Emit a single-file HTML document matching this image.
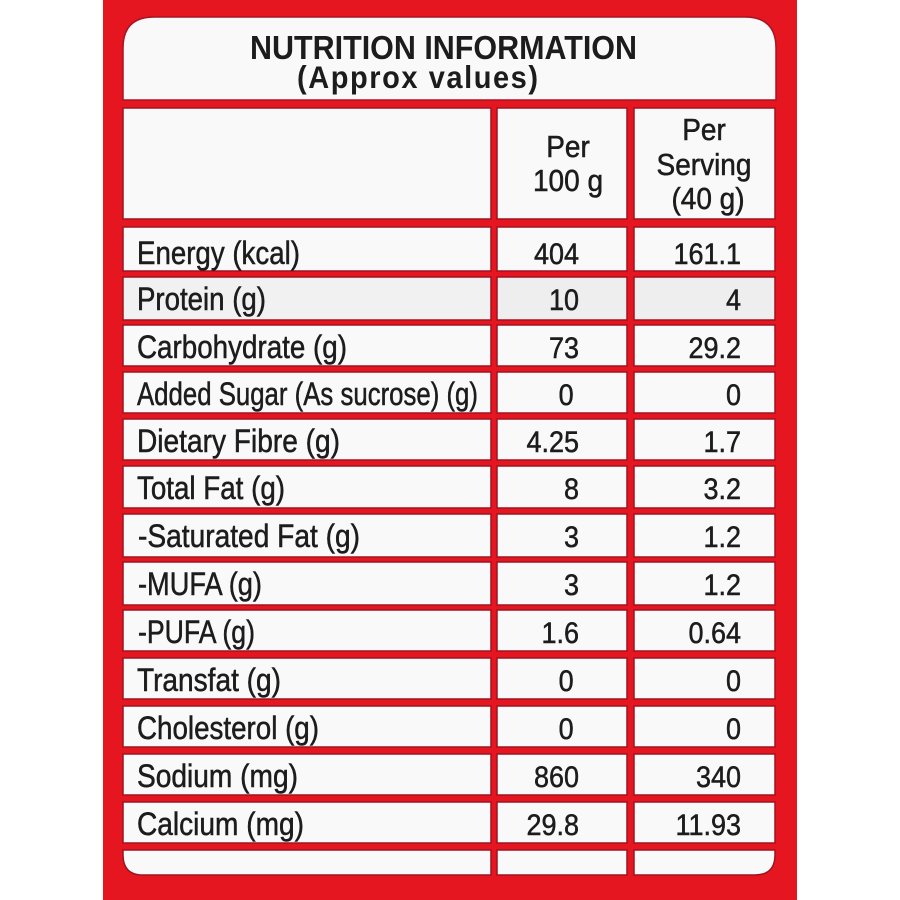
<!DOCTYPE html>
<html>
<head>
<meta charset="utf-8">
<style>
  html,body{margin:0;padding:0;background:#ffffff;}
  svg{display:block;}
  text{font-family:"Liberation Sans", Arial, sans-serif;fill:#1c1c1c;}
  .w text{stroke:#1c1c1c;stroke-width:0.5;}
</style>
</head>
<body>
<svg width="900" height="900" viewBox="0 0 900 900" xmlns="http://www.w3.org/2000/svg">
  <rect x="0" y="0" width="900" height="900" fill="#ffffff"/>
  <rect x="103" y="0" width="694" height="900" fill="#e5161f"/>

  <!-- header box -->
  <path d="M123,100 L123,48 Q123,17 154,17 L745,17 Q776,17 776,48 L776,100 Z" fill="#f9f9f9" stroke="#a81424" stroke-width="1.5"/>
  <text x="250" y="59" font-size="30" font-weight="bold" textLength="387" lengthAdjust="spacingAndGlyphs" transform="translate(0,59) scale(1,1.1) translate(0,-59)">NUTRITION INFORMATION</text>
  <text x="297" y="88" font-size="29" font-weight="bold" textLength="241" lengthAdjust="spacing" transform="translate(0,88) scale(1,1.08) translate(0,-88)">(Approx values)</text>

  <g fill="#f9f9f9" stroke="#a01222" stroke-width="1.5">
    <!-- header row -->
    <rect x="123" y="108" width="368" height="111"/>
    <rect x="497" y="108" width="130" height="111"/>
    <rect x="634" y="108" width="141" height="111"/>
    <!-- body rows -->
    <rect x="123" y="227" width="368" height="44"/><rect x="497" y="227" width="130" height="44"/><rect x="634" y="227" width="141" height="44"/>
    <rect x="123" y="277" width="368" height="43" fill="#f1f1f1"/><rect x="497" y="277" width="130" height="43" fill="#eeeeee"/><rect x="634" y="277" width="141" height="43" fill="#eeeeee"/>
    <rect x="123" y="325" width="368" height="41"/><rect x="497" y="325" width="130" height="41"/><rect x="634" y="325" width="141" height="41"/>
    <rect x="123" y="372" width="368" height="41"/><rect x="497" y="372" width="130" height="41"/><rect x="634" y="372" width="141" height="41"/>
    <rect x="123" y="419" width="368" height="41"/><rect x="497" y="419" width="130" height="41"/><rect x="634" y="419" width="141" height="41"/>
    <rect x="123" y="466" width="368" height="42"/><rect x="497" y="466" width="130" height="42"/><rect x="634" y="466" width="141" height="42"/>
    <rect x="123" y="514" width="368" height="43"/><rect x="497" y="514" width="130" height="43"/><rect x="634" y="514" width="141" height="43"/>
    <rect x="123" y="562" width="368" height="43"/><rect x="497" y="562" width="130" height="43"/><rect x="634" y="562" width="141" height="43"/>
    <rect x="123" y="610" width="368" height="41"/><rect x="497" y="610" width="130" height="41"/><rect x="634" y="610" width="141" height="41"/>
    <rect x="123" y="658" width="368" height="41"/><rect x="497" y="658" width="130" height="41"/><rect x="634" y="658" width="141" height="41"/>
    <rect x="123" y="706" width="368" height="41"/><rect x="497" y="706" width="130" height="41"/><rect x="634" y="706" width="141" height="41"/>
    <rect x="123" y="754" width="368" height="41"/><rect x="497" y="754" width="130" height="41"/><rect x="634" y="754" width="141" height="41"/>
    <rect x="123" y="802" width="368" height="41"/><rect x="497" y="802" width="130" height="41"/><rect x="634" y="802" width="141" height="41"/>
    <!-- last (empty) row -->
    <path d="M123,850 L491,850 L491,875 L143,875 Q123,875 123,855 Z"/>
    <rect x="497" y="850" width="130" height="25"/>
    <path d="M634,850 L775,850 L775,855 Q775,875 755,875 L634,875 Z"/>
  </g>

  <g class="w">
  <!-- header texts -->
  <g font-size="28" text-anchor="middle">
    <text x="568" y="157" transform="translate(0,157) scale(1,1.08) translate(0,-157)">Per</text>
    <text x="568" y="191" transform="translate(0,191) scale(1,1.08) translate(0,-191)">100 g</text>
    <text x="704" y="140" transform="translate(0,140) scale(1,1.08) translate(0,-140)">Per</text>
    <text x="704" y="175" transform="translate(0,175) scale(1,1.08) translate(0,-175)">Serving</text>
    <text x="708" y="209" transform="translate(0,209) scale(1,1.08) translate(0,-209)">(40 g)</text>
  </g>

  <!-- labels -->
  <g font-size="31">
    <text x="137" y="264" textLength="163" lengthAdjust="spacingAndGlyphs" transform="translate(0,264) scale(1,1.06) translate(0,-264)">Energy (kcal)</text>
    <text x="137" y="310" textLength="129" lengthAdjust="spacingAndGlyphs" transform="translate(0,310) scale(1,1.06) translate(0,-310)">Protein (g)</text>
    <text x="137" y="358" textLength="210" lengthAdjust="spacingAndGlyphs" transform="translate(0,358) scale(1,1.06) translate(0,-358)">Carbohydrate (g)</text>
    <text x="137" y="405" textLength="341" lengthAdjust="spacingAndGlyphs" transform="translate(0,405) scale(1,1.06) translate(0,-405)">Added Sugar (As sucrose) (g)</text>
    <text x="137" y="452" textLength="203" lengthAdjust="spacingAndGlyphs" transform="translate(0,452) scale(1,1.06) translate(0,-452)">Dietary Fibre (g)</text>
    <text x="137" y="499" textLength="148" lengthAdjust="spacingAndGlyphs" transform="translate(0,499) scale(1,1.06) translate(0,-499)">Total Fat (g)</text>
    <text x="138" y="547" textLength="222" lengthAdjust="spacingAndGlyphs" transform="translate(0,547) scale(1,1.06) translate(0,-547)">-Saturated Fat (g)</text>
    <text x="138" y="595" textLength="124" lengthAdjust="spacingAndGlyphs" transform="translate(0,595) scale(1,1.06) translate(0,-595)">-MUFA (g)</text>
    <text x="138" y="643" textLength="117" lengthAdjust="spacingAndGlyphs" transform="translate(0,643) scale(1,1.06) translate(0,-643)">-PUFA (g)</text>
    <text x="137" y="691" textLength="144" lengthAdjust="spacingAndGlyphs" transform="translate(0,691) scale(1,1.06) translate(0,-691)">Transfat (g)</text>
    <text x="137" y="739" textLength="182" lengthAdjust="spacingAndGlyphs" transform="translate(0,739) scale(1,1.06) translate(0,-739)">Cholesterol (g)</text>
    <text x="137" y="787" textLength="161" lengthAdjust="spacingAndGlyphs" transform="translate(0,787) scale(1,1.06) translate(0,-787)">Sodium (mg)</text>
    <text x="137" y="835" textLength="167" lengthAdjust="spacingAndGlyphs" transform="translate(0,835) scale(1,1.06) translate(0,-835)">Calcium (mg)</text>
  </g>

  <!-- per 100 g values -->
  <g transform="translate(579,0) scale(0.9,1)" font-size="30" text-anchor="end">
    <text x="0" y="264">404</text>
    <text x="0" y="310">10</text>
    <text x="0" y="358">73</text>
    <text x="-6" y="405">0</text>
    <text x="0" y="452">4.25</text>
    <text x="0" y="499">8</text>
    <text x="0" y="547">3</text>
    <text x="0" y="595">3</text>
    <text x="0" y="643">1.6</text>
    <text x="-6" y="691">0</text>
    <text x="-6" y="739">0</text>
    <text x="0" y="787">860</text>
    <text x="0" y="835">29.8</text>
  </g>

  <!-- per serving values -->
  <g transform="translate(741,0) scale(0.9,1)" font-size="30" text-anchor="end">
    <text x="0" y="264">161.1</text>
    <text x="0" y="310">4</text>
    <text x="0" y="358">29.2</text>
    <text x="0" y="405">0</text>
    <text x="0" y="452">1.7</text>
    <text x="0" y="499">3.2</text>
    <text x="0" y="547">1.2</text>
    <text x="0" y="595">1.2</text>
    <text x="0" y="643">0.64</text>
    <text x="0" y="691">0</text>
    <text x="0" y="739">0</text>
    <text x="0" y="787">340</text>
    <text x="0" y="835">11.93</text>
  </g>
  </g>
</svg>
</body>
</html>
